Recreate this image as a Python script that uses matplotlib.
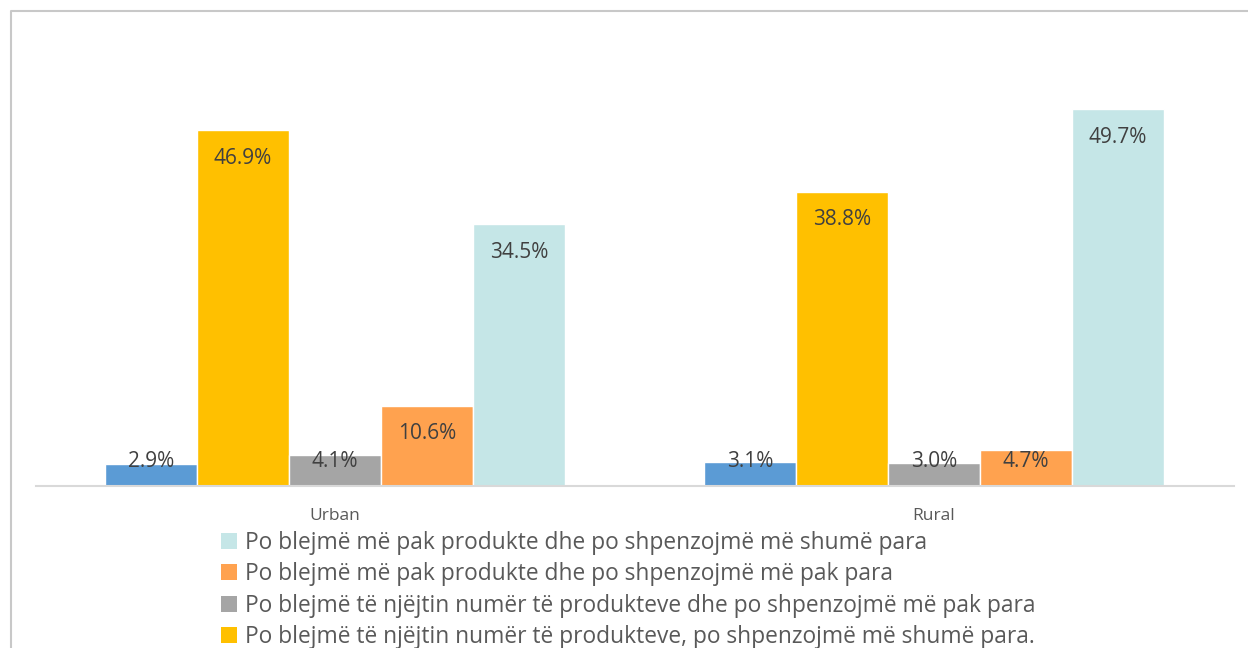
import matplotlib
matplotlib.use("Agg")
import matplotlib.pyplot as plt
from matplotlib.lines import Line2D
from matplotlib.patches import Patch
import numpy as np

plt.rcParams["font.family"] = ["Open Sans", "DejaVu Sans"]

categories = ["Urban", "Rural"]
series_names = [
    "Blue series",
    "Po blejmë të njëjtin numër të produkteve, po shpenzojmë më shumë para.",
    "Po blejmë të njëjtin numër të produkteve dhe po shpenzojmë më pak para",
    "Po blejmë më pak produkte dhe po shpenzojmë më pak para",
    "Po blejmë më pak produkte dhe po shpenzojmë më shumë para",
]
values = [
    [2.9, 3.1],
    [46.9, 38.8],
    [4.1, 3.0],
    [10.6, 4.7],
    [34.5, 49.7],
]
colors = ["#5B9BD5", "#FFC000", "#A5A5A5", "#FFA24F", "#C5E6E7"]

W, H = 1248, 648
fig = plt.figure(figsize=(W / 100, H / 100), dpi=100)
fig.set_facecolor("white")

# frame of the chart area (only top and left edge visible in the crop)
frame_x = 11 / W
frame_y = 1 - 11 / H
fig.add_artist(Line2D([frame_x, frame_x, 1.0], [0.0, frame_y, frame_y],
                      transform=fig.transFigure, color="#C8C8C8", linewidth=1.5))

ax = fig.add_axes([35.5 / W, 162 / H, 1198 / W, 455 / H])
ax.set_xlim(-0.5, 1.5)
ax.set_ylim(0, 60)

x = np.arange(len(categories))
width = 0.1536
for i, (vals, col) in enumerate(zip(values, colors)):
    pos = x + (i - 2) * width
    ax.bar(pos, vals, width=width, color=col, edgecolor="white", linewidth=1)
    for px, v in zip(pos, vals):
        ax.text(px, max(v - 3.7, 3.2), f"{v:.1f}%", ha="center", va="center",
                fontsize=15, color="#404040")

for s in ["top", "right", "left"]:
    ax.spines[s].set_visible(False)
ax.spines["bottom"].set_color("#D9D9D9")
ax.spines["bottom"].set_linewidth(1.5)
ax.set_yticks([])
ax.set_xticks(x)
ax.set_xticklabels(categories, fontsize=12.5, color="#595959")
ax.tick_params(axis="x", length=0, pad=16)

order = [4, 3, 2, 1]
handles = [Patch(facecolor=colors[i], edgecolor="none") for i in order]
labels = [series_names[i] for i in order]
leg = fig.legend(handles, labels, loc="upper left", bbox_to_anchor=(221 / W, 1 - 531 / H),
                 frameon=False, fontsize=16.4, handlelength=0.7, handleheight=0.7,
                 handletextpad=0.35, labelspacing=0.32, labelcolor="#595959",
                 borderaxespad=0, borderpad=0)

fig.savefig("out.png", dpi=100)
